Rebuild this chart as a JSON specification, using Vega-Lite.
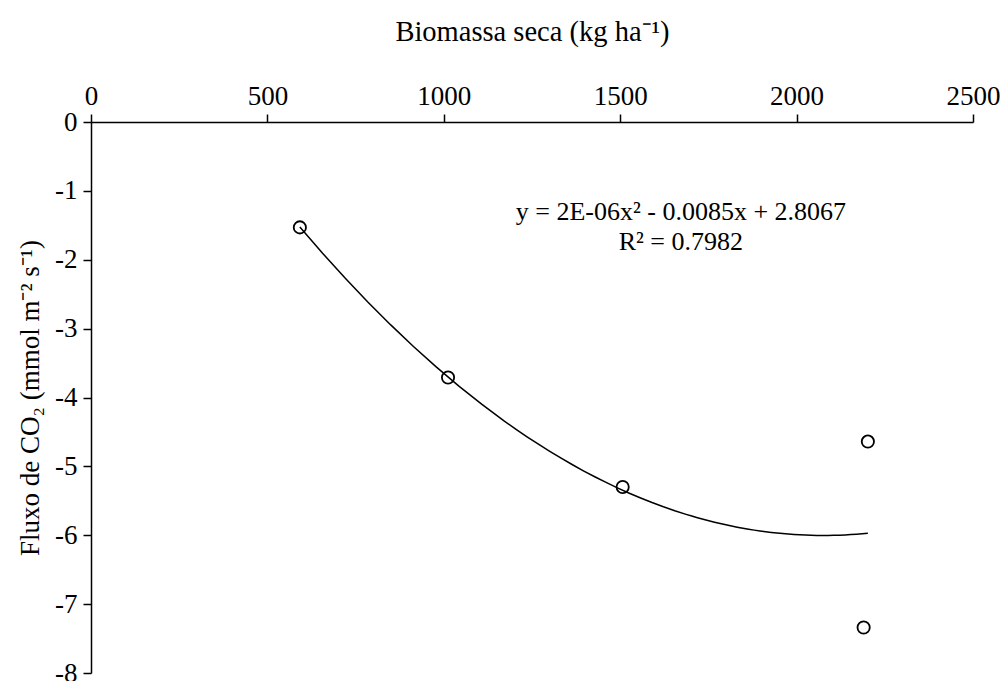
{
  "$schema": "https://vega.github.io/schema/vega-lite/v6.json",
  "width": 882,
  "height": 551,
  "autosize": {"type": "none"},
  "padding": {"left": 91, "top": 122, "right": 33, "bottom": 8},
  "background": "white",
  "config": {
    "view": {"stroke": null},
    "font": "Liberation Serif",
    "axis": {
      "grid": false,
      "domainColor": "black",
      "domainWidth": 1.5,
      "tickColor": "black",
      "tickWidth": 1.5,
      "tickSize": 8,
      "labelFlush": false,
      "labelOverlap": false,
      "labelFont": "Liberation Serif",
      "labelFontSize": 27,
      "labelColor": "black",
      "titleFont": "Liberation Serif",
      "titleFontSize": 27,
      "titleFontWeight": "normal",
      "titleColor": "black"
    }
  },
  "datasets": {
    "pts": [
      {"biomassa": 592, "fluxo": -1.53},
      {"biomassa": 1012, "fluxo": -3.71},
      {"biomassa": 1507, "fluxo": -5.30},
      {"biomassa": 2202, "fluxo": -4.64},
      {"biomassa": 2190, "fluxo": -7.34}
    ],
    "labels": [
      {"biomassa": 1672, "fluxo": -1.31, "txt": "y = 2E-06x² - 0.0085x + 2.8067"},
      {"biomassa": 1672, "fluxo": -1.74, "txt": "R² = 0.7982"}
    ]
  },
  "layer": [
    {
      "data": {"name": "pts"},
      "transform": [
        {"regression": "fluxo", "on": "biomassa", "method": "poly", "order": 2}
      ],
      "mark": {"type": "line", "color": "black", "strokeWidth": 1.5},
      "encoding": {
        "x": {
          "field": "biomassa", "type": "quantitative",
          "scale": {"domain": [0, 2500], "nice": false},
          "axis": {"orient": "top", "values": [0, 500, 1000, 1500, 2000, 2500], "labelExpr": "'' + datum.value", "labelFont": "Liberation Serif", "titleFont": "Liberation Serif", "titleFontSize": 28.5, "title": "Biomassa seca (kg ha⁻¹)", "titlePadding": 36, "labelPadding": 4}
        },
        "y": {
          "field": "fluxo", "type": "quantitative",
          "scale": {"domain": [-8, 0], "nice": false},
          "axis": {"values": [0, -1, -2, -3, -4, -5, -6, -7, -8], "labelExpr": "'' + datum.value", "labelFont": "Liberation Serif", "titleFont": "Liberation Serif", "title": "Fluxo de CO₂ (mmol m⁻² s⁻¹)", "titlePadding": 10, "labelPadding": 6}
        }
      }
    },
    {
      "data": {"name": "pts"},
      "mark": {"type": "point", "shape": "circle", "filled": false, "stroke": "black", "strokeWidth": 1.8, "size": 150, "opacity": 1},
      "encoding": {
        "x": {"field": "biomassa", "type": "quantitative"},
        "y": {"field": "fluxo", "type": "quantitative"}
      }
    },
    {
      "data": {"name": "labels"},
      "mark": {"type": "text", "font": "Liberation Serif", "fontSize": 26, "color": "black", "align": "center", "baseline": "middle"},
      "encoding": {
        "x": {"field": "biomassa", "type": "quantitative"},
        "y": {"field": "fluxo", "type": "quantitative"},
        "text": {"field": "txt"}
      }
    }
  ]
}
